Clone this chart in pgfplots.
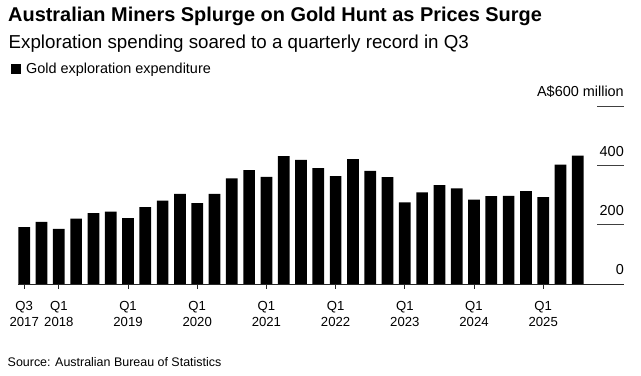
\documentclass[border=0pt]{standalone}
\usepackage{pgfplots}
\pgfplotsset{compat=1.18}
\usepackage{fontspec}
\setmainfont{Liberation Sans}
\begin{document}
\begin{tikzpicture}
\path[use as bounding box] (0bp,0bp) rectangle (641bp,376bp);
\node[anchor=base west, inner sep=0, font=\fontsize{20}{24}\selectfont\bfseries] at (8bp,354bp) {Australian Miners Splurge on Gold Hunt as Prices Surge};
\node[anchor=base west, inner sep=0, font=\fontsize{18.8}{22}\selectfont] at (8.5bp,327.7bp) {Exploration spending soared to a quarterly record in Q3};
\fill (11bp,301.7bp) rectangle (21bp,311.7bp);
\node[anchor=base west, inner sep=0, font=\fontsize{14.5}{17}\selectfont] at (26bp,302bp) {Gold exploration expenditure};
\node[anchor=base west, inner sep=0, font=\fontsize{12.5}{15}\selectfont] at (7.5bp,9.3bp) {Source: Australian Bureau of Statistics};
\begin{axis}[
  at={(18bp,92bp)}, anchor=south west,
  scale only axis, width=606bp, height=178bp,
  xmin=-0.36, xmax=34.67, ymin=0, ymax=600,
  axis x line*=bottom, axis y line=none,
  x axis line style={black!85, line width=0.8bp, -},
  xtick={0,2,6,10,14,18,22,26,30},
  xticklabels={{Q3\\[-2bp]2017},{Q1\\[-2bp]2018},{Q1\\[-2bp]2019},{Q1\\[-2bp]2020},{Q1\\[-2bp]2021},{Q1\\[-2bp]2022},{Q1\\[-2bp]2023},{Q1\\[-2bp]2024},{Q1\\[-2bp]2025}},
  xticklabel style={align=center, font=\fontsize{13.2}{18}\selectfont, text=black, anchor=north, inner sep=0pt},
  xticklabel shift=12.5bp,
  x tick style={black!85, line width=0.8bp},
  tick align=outside, major tick length=5bp,
  ytick=\empty,
  ybar, bar width=11.7bp,
  clip=false,
]
\addplot[fill=black, draw=none] coordinates {
(0,192) (1,209) (2,186) (3,220) (4,239) (5,244) (6,222) (7,259) (8,281) (9,304)
(10,273) (11,304) (12,356) (13,384) (14,361) (15,431) (16,418) (17,391) (18,364) (19,421)
(20,381) (21,360) (22,275) (23,309) (24,333) (25,322) (26,284) (27,296) (28,297) (29,313)
(30,293) (31,402) (32,433)
};
\draw[black!75, line width=0.8bp] (axis cs:33.11,200) -- (axis cs:34.67,200);
\draw[black!75, line width=0.8bp] (axis cs:33.11,400) -- (axis cs:34.67,400);
\draw[black!75, line width=0.8bp] (axis cs:33.11,600) -- (axis cs:34.67,600);
\node[anchor=base east, inner sep=0, yshift=9bp, font=\fontsize{14.5}{17}\selectfont] at (axis cs:34.67,0) {0};
\node[anchor=base east, inner sep=0, yshift=9bp, font=\fontsize{14.5}{17}\selectfont] at (axis cs:34.67,200) {200};
\node[anchor=base east, inner sep=0, yshift=9bp, font=\fontsize{14.5}{17}\selectfont] at (axis cs:34.67,400) {400};
\node[anchor=base east, inner sep=0, yshift=9bp, font=\fontsize{14.5}{17}\selectfont] at (axis cs:34.67,600) {A\$600 million};
\end{axis}
\end{tikzpicture}
\end{document}
